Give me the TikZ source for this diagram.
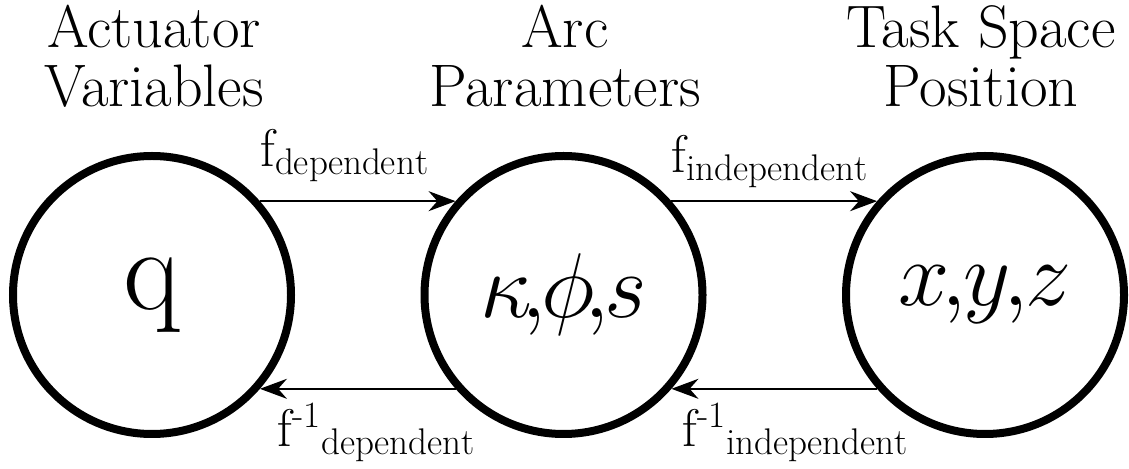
\RequirePackage{fix-cm}
\documentclass[tikz,border=0pt]{standalone}
\usepackage{amsmath}
\usepackage{fontspec}
\usetikzlibrary{arrows.meta}
\begin{document}
\begin{tikzpicture}[x=0.5pt,y=-0.5pt,
  state/.style={circle,draw,line width=4pt,minimum size=139pt,inner sep=0pt},
  title/.style={font=\fontsize{30}{29.5}\selectfont,align=center,anchor=base,inner sep=0pt},
  flabel/.style={font=\fontsize{26.5}{30}\selectfont,anchor=base west,inner sep=0pt},
  conn/.style={line width=0.9pt,-{Stealth[length=13.5pt,width=10pt]}}]
\useasboundingbox (0,0) rectangle (1129,469);
% states
\node[state] (q) at (152,295) {\fontsize{59}{60}\selectfont q};
\node[state] (k) at (563.5,295) {\fontsize{46}{50}\selectfont $\kappa\mkern-2mu,\mkern-4mu\phi\mkern-2mu,\mkern-4mu s$};
\node[state] (p) at (985,295) {\fontsize{46}{50}\selectfont $x\mkern-1.5mu,\mkern-3.5mu y\mkern-1.5mu,\mkern-3.5mu z$};
% titles
\node[title] (t1) at (154,107) {Actuator\\Variables};
\node[title] (t2) at (565,107) {Arc\\Parameters};
\node[title] (t3) at (981,107) {Task Space\\Position};
% connectors
\draw[conn] (q.41) -- (k.139);
\draw[conn] (k.41) -- (p.139);
\draw[conn] (p.-139) -- (k.-41);
\draw[conn] (k.-139) -- (q.-41);
% labels
\node[flabel] (l1) at (260,167) {$\mathrm{f}_{\mathrm{dependent}}$};
\node[flabel] (l2) at (671,173) {$\mathrm{f}_{\mathrm{independent}}$};
\node[flabel] (l3) at (277,447) {$\mathrm{f}^{\text{-1}}{}_{\mathrm{dependent}}$};
\node[flabel] (l4) at (682,447) {$\mathrm{f}^{\text{-1}}{}_{\mathrm{independent}}$};
\end{tikzpicture}
\end{document}
